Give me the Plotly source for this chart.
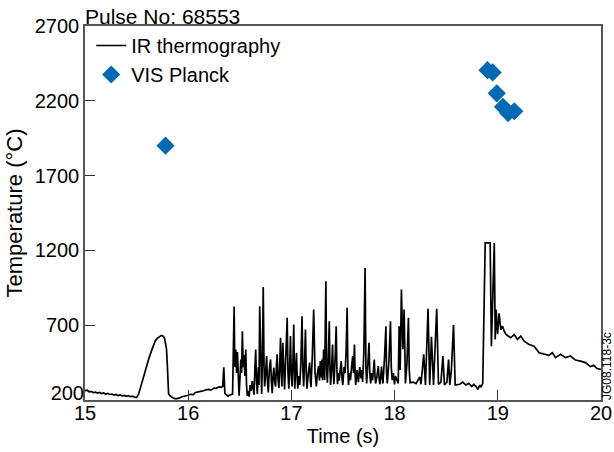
import plotly.graph_objects as go

# IR thermography trace (time in s, temperature in °C)
ir_time = [
    15.00, 15.02, 15.04, 15.06, 15.08, 15.10, 15.12, 15.14, 15.16, 15.18,
    15.20, 15.22, 15.24, 15.26, 15.28, 15.30, 15.32, 15.34, 15.36, 15.38,
    15.40, 15.42, 15.44, 15.46, 15.48, 15.50,
    15.52, 15.54, 15.56, 15.58, 15.60, 15.62, 15.64, 15.66, 15.68, 15.70,
    15.72, 15.74, 15.76, 15.77, 15.78, 15.79, 15.80, 15.81, 15.83, 15.85,
    15.88, 15.91, 15.94, 15.97, 16.00, 16.02, 16.05, 16.07, 16.10, 16.12,
    16.15, 16.17, 16.20, 16.22, 16.25, 16.27, 16.30, 16.32, 16.335, 16.345,
    16.355, 16.37, 16.385, 16.397, 16.43,
    16.445, 16.452, 16.461, 16.469, 16.477, 16.485, 16.493, 16.502, 16.510, 16.517,
    16.525, 16.533, 16.541, 16.549, 16.558, 16.565, 16.573, 16.582, 16.590, 16.600,
    16.610, 16.621, 16.630, 16.638, 16.646, 16.654, 16.662, 16.670, 16.680, 16.686,
    16.693, 16.703, 16.712, 16.720, 16.727, 16.735, 16.741, 16.750, 16.760, 16.768,
    16.776, 16.786, 16.798, 16.806, 16.814, 16.822, 16.830, 16.839, 16.847, 16.855,
    16.862, 16.870, 16.879, 16.887, 16.895, 16.902, 16.908, 16.917, 16.925, 16.934,
    16.945, 16.959, 16.967, 16.975, 16.983, 16.991, 16.999, 17.007, 17.015, 17.023,
    17.028, 17.033, 17.041, 17.049, 17.056, 17.062, 17.071, 17.081, 17.092, 17.103,
    17.111, 17.119, 17.128, 17.136, 17.144, 17.151, 17.164, 17.177, 17.184, 17.190,
    17.203, 17.216, 17.229, 17.242, 17.252, 17.264, 17.272, 17.280, 17.288, 17.296,
    17.302, 17.312, 17.322, 17.334, 17.341, 17.348, 17.358, 17.367, 17.374, 17.380,
    17.390, 17.399, 17.406, 17.412, 17.424, 17.434, 17.441, 17.447, 17.455, 17.463,
    17.473, 17.483, 17.490, 17.498, 17.510, 17.520, 17.530, 17.540, 17.547, 17.553,
    17.562, 17.572, 17.583, 17.594, 17.602, 17.611, 17.617, 17.623, 17.636, 17.649,
    17.662, 17.675, 17.683, 17.690, 17.702, 17.714, 17.722, 17.729, 17.741, 17.752,
    17.760, 17.768, 17.778, 17.787, 17.795, 17.803, 17.810, 17.816, 17.829, 17.842,
    17.850, 17.858, 17.866, 17.874, 17.880, 17.887, 17.902, 17.916, 17.922, 17.929,
    17.945, 17.960, 17.968, 17.977, 17.988, 17.999, 18.008, 18.018, 18.026, 18.035,
    18.044, 18.054, 18.066, 18.080, 18.092, 18.099, 18.105, 18.120, 18.134, 18.142,
    18.150,
    18.179, 18.208, 18.244, 18.256, 18.282, 18.299, 18.324, 18.340, 18.357, 18.377,
    18.408, 18.425, 18.449, 18.468, 18.483, 18.507, 18.523, 18.535, 18.550, 18.571,
    18.587, 18.632, 18.661, 18.690, 18.719, 18.748, 18.767, 18.796, 18.805, 18.825,
    18.834, 18.854, 18.878, 18.926, 18.938, 18.966, 18.975, 18.983, 18.998, 19.012,
    19.030, 19.046, 19.062, 19.078, 19.094, 19.126, 19.159, 19.191, 19.223, 19.255,
    19.303, 19.352, 19.400, 19.447, 19.496, 19.528, 19.560, 19.608, 19.656, 19.704,
    19.752, 19.801, 19.849, 19.897, 19.930, 19.961, 20.000,
]
ir_temp = [
    262, 265, 255, 258, 250, 253, 246, 250, 243, 247,
    240, 244, 237, 240, 233, 237, 230, 234, 227, 231,
    225, 229, 222, 226, 219, 216,
    240, 290, 340, 395, 445, 480, 520, 555, 595, 612,
    625, 632, 625, 612, 580, 540, 400, 240, 225, 215,
    208, 212, 222, 226, 232, 238, 236, 250, 252, 258,
    262, 268, 271, 266, 280, 278, 288, 285, 292, 418,
    245, 238, 226, 232, 240,
    825, 420, 538, 380, 520, 300, 228, 350, 471, 380,
    660, 420, 500, 360, 538, 300, 228, 260, 222, 300,
    260, 327, 250, 235, 400, 538, 330, 240, 420, 300,
    827, 400, 240, 500, 955, 420, 290, 380, 494, 320,
    250, 400, 471, 330, 245, 360, 416, 320, 290, 430,
    505, 340, 280, 440, 616, 380, 290, 583, 350, 270,
    480, 750, 380, 275, 420, 627, 360, 290, 460, 705,
    420, 275, 400, 516, 350, 275, 360, 300, 450, 760,
    400, 290, 460, 671, 380, 275, 380, 450, 330, 285,
    500, 805, 380, 290, 380, 427, 330, 460, 350, 471,
    333, 538, 333, 993, 420, 315, 480, 727, 400, 300,
    420, 571, 380, 305, 480, 693, 400, 305, 380, 330,
    400, 460, 350, 300, 420, 380, 520, 816, 420, 300,
    380, 333, 420, 494, 380, 571, 380, 300, 400, 320,
    420, 345, 400, 320, 520, 1083, 420, 310, 440, 583,
    380, 310, 380, 333, 400, 471, 360, 310, 360, 427,
    340, 305, 360, 423, 350, 310, 480, 693, 380, 310,
    460, 727, 420, 333, 380, 305, 360, 345, 330, 310,
    693, 400, 938, 540, 805, 420, 310, 450, 750, 400,
    316,
    320, 310, 355, 305, 505, 300, 810, 300, 623, 300,
    810, 305, 320, 494, 300, 320, 470, 300, 400, 702,
    300, 305, 320, 300, 312, 290, 305, 285, 270, 300,
    285, 310, 1250, 1250, 560, 1250, 605, 805, 640, 780,
    671, 693, 660, 640, 631, 616, 638, 605, 627, 593,
    571, 560, 516, 505, 498, 516, 483, 505, 483, 494,
    467, 460, 450, 423, 432, 410, 405,
]

# VIS Planck points
vis_time = [15.78, 18.90, 18.95, 18.99, 19.05, 19.10, 19.16]
vis_temp = [1900, 2405, 2390, 2250, 2160, 2118, 2130]

x_ticks = [15, 16, 17, 18, 19, 20]
y_ticks = [200, 700, 1200, 1700, 2200, 2700]
y_tick_text = ["", "700", "1200", "1700", "2200", "2700"]
y_bottom_tick = [200]

FONT = "Liberation Sans, Arial, Helvetica, sans-serif"

fig = go.Figure()
fig.add_trace(go.Scatter(
    x=ir_time, y=ir_temp, mode="lines", name="IR thermography",
    line=dict(color="black", width=1.7),
))
fig.add_trace(go.Scatter(
    x=vis_time, y=vis_temp, mode="markers", name="VIS Planck",
    marker=dict(symbol="diamond", size=14, color="#0069b4"),
))
# empty helper trace so the overlay axis carrying the bottom label is drawn
fig.add_trace(go.Scatter(
    x=[], y=[], yaxis="y2", mode="markers", showlegend=False, hoverinfo="skip",
))

axis_common = dict(
    showgrid=False, zeroline=False, showline=True, linecolor="#555555",
    linewidth=1.5, mirror=True, ticks="inside", ticklen=10, tickwidth=1,
    tickcolor="#333333", tickfont=dict(size=20, color="black", family=FONT),
    automargin=False, ticklabeloverflow="allow",
)

fig.update_layout(
    width=614, height=452,
    margin=dict(l=85, r=13, t=26, b=52),
    paper_bgcolor="white", plot_bgcolor="white",
    font=dict(family=FONT, color="black"),
    showlegend=True,
    legend=dict(x=0.012, y=1.0, xanchor="left", yanchor="top",
                bgcolor="rgba(0,0,0,0)", font=dict(size=20, family=FONT),
                tracegroupgap=0),
    xaxis=dict(range=[15, 20], tickvals=x_ticks, ticklabelstandoff=-6,
               title=dict(text="Time (s)", font=dict(size=20, family=FONT), standoff=6),
               **axis_common),
    yaxis=dict(range=[200, 2700], tickvals=y_ticks, ticktext=y_tick_text,
               title=dict(text="Temperature (°C)", font=dict(size=22, family=FONT), standoff=6),
               **axis_common),
    # bottom tick label (200) raised slightly, as in the original figure
    yaxis2=dict(range=[200, 2700], overlaying="y", side="left", tickvals=y_bottom_tick,
                showgrid=False, zeroline=False, showline=False, ticks="",
                tickfont=dict(size=20, color="black", family=FONT),
                automargin=False, ticklabelshift=-7, ticklabeloverflow="allow"),
    annotations=[
        dict(text="Pulse No: 68553", x=0, y=1, xref="paper", yref="paper",
             xanchor="left", yanchor="bottom", showarrow=False,
             font=dict(size=21, family=FONT, color="black"), xshift=-2, yshift=-4),
        dict(text="JG08.118-3c", x=1, y=0, xref="paper", yref="paper",
             xanchor="center", yanchor="bottom", textangle=-90, showarrow=False,
             font=dict(size=12, family=FONT, color="black"), xshift=6, yshift=-2),
    ],
)

fig.write_html("out.html")
